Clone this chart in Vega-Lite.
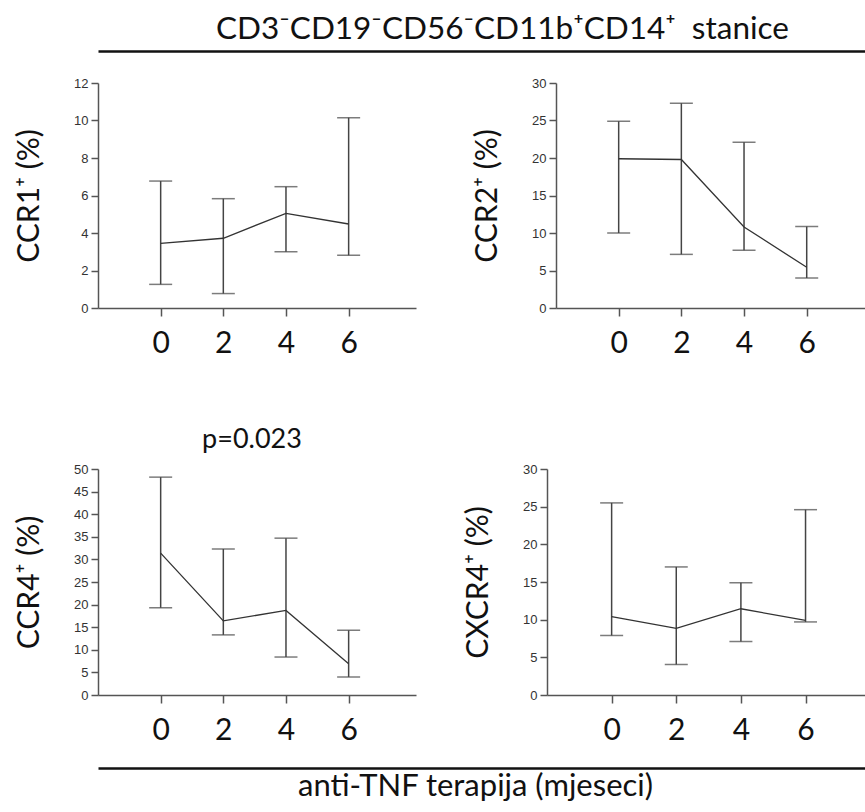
{
  "$schema": "https://vega.github.io/schema/vega-lite/v6.json",
  "padding": {"left": 14, "top": 13, "right": 0, "bottom": 0},
  "autosize": {"type": "pad"},
  "background": "white",
  "config": {
    "view": {"stroke": null},
    "font": "Lato",
    "axis": {"grid": false},
    "axisX": {"title": null, "labelFont": "Lato", "labelFontSize": 30, "labelColor": "#111", "labelPadding": 12, "tickSize": 8, "tickColor": "#555", "tickWidth": 1.5, "domainColor": "#555", "domainWidth": 1.5, "labelFlush": false},
    "axisY": {"titleFont": "Lato", "titleFontSize": 30, "titleFontWeight": "normal", "titleColor": "#111", "titlePadding": 29, "labelFont": "Liberation Sans", "labelFontSize": 13, "labelColor": "#333", "labelPadding": 3, "tickSize": 7, "tickColor": "#555", "tickWidth": 1.5, "domainColor": "#555", "domainWidth": 1.5}
  },
  "datasets": {
    "d": [
      {"panel": "CCR1", "month": 0, "mean": 3.45, "low": 1.26, "high": 6.77},
      {"panel": "CCR1", "month": 2, "mean": 3.72, "low": 0.77, "high": 5.83},
      {"panel": "CCR1", "month": 4, "mean": 5.05, "low": 3.0, "high": 6.47},
      {"panel": "CCR1", "month": 6, "mean": 4.48, "low": 2.81, "high": 10.15},
      {"panel": "CCR2", "month": 0, "mean": 19.9, "low": 10.0, "high": 24.9},
      {"panel": "CCR2", "month": 2, "mean": 19.8, "low": 7.15, "high": 27.3},
      {"panel": "CCR2", "month": 4, "mean": 10.8, "low": 7.7, "high": 22.1},
      {"panel": "CCR2", "month": 6, "mean": 5.43, "low": 4.0, "high": 10.86},
      {"panel": "CCR4", "month": 0, "mean": 31.4, "low": 19.3, "high": 48.2},
      {"panel": "CCR4", "month": 2, "mean": 16.4, "low": 13.3, "high": 32.3},
      {"panel": "CCR4", "month": 4, "mean": 18.7, "low": 8.4, "high": 34.7},
      {"panel": "CCR4", "month": 6, "mean": 6.9, "low": 4.0, "high": 14.3},
      {"panel": "CXCR4", "month": 0, "mean": 10.4, "low": 7.9, "high": 25.5},
      {"panel": "CXCR4", "month": 2, "mean": 8.85, "low": 4.05, "high": 17.0},
      {"panel": "CXCR4", "month": 4, "mean": 11.45, "low": 7.1, "high": 14.9},
      {"panel": "CXCR4", "month": 6, "mean": 9.9, "low": 9.7, "high": 24.6}
    ],
    "blank": [{"v": 0}]
  },
  "spacing": 68,
  "vconcat": [
    {
      "spacing": 0,
      "vconcat": [
        {
          "data": {"name": "blank"},
          "width": 768,
          "height": 23,
          "mark": {"type": "point", "opacity": 0},
          "encoding": {
            "x": {"field": "v", "type": "quantitative", "scale": {"domain": [0, 1]},
              "axis": {"orient": "top", "ticks": false, "labels": false, "domainColor": "#111", "domainWidth": 2.5,
                "title": "CD3⁻CD19⁻CD56⁻CD11b⁺CD14⁺\u00a0 stanice", "titleFont": "Lato", "titleFontSize": 31.5, "titleFontWeight": "normal",
                "titleColor": "#111", "titlePadding": 6, "titleX": 404, "titleAlign": "center"}},
            "y": {"field": "v", "type": "quantitative", "scale": {"domain": [0, 1]},
              "axis": {"title": " ", "titleFontSize": 30, "titlePadding": 54, "ticks": false, "labels": false, "domain": false}}
          }
        },
        {
          "bounds": "flush",
          "spacing": 140,
          "hconcat": [
            {
              "data": {"name": "d"},
              "transform": [{"filter": "datum.panel === 'CCR1'"}],
              "width": 318,
              "height": 225,
              "encoding": {
                "x": {"field": "month", "type": "quantitative", "scale": {"domain": [-2, 8.15], "nice": false}, "axis": {"values": [0, 2, 4, 6]}}
              },
              "layer": [
                {"mark": {"type": "rule", "color": "#444", "strokeWidth": 1.5},
                  "encoding": {"y": {"field": "low", "type": "quantitative", "scale": {"domain": [0, 12], "nice": false}, "axis": {"values": [0, 2, 4, 6, 8, 10, 12], "title": "CCR1⁺ (%)"}},
                    "y2": {"field": "high"}}},
                {"mark": {"type": "tick", "orient": "horizontal", "size": 23, "thickness": 1.5, "color": "#444"},
                  "encoding": {"y": {"field": "low", "type": "quantitative", "scale": {"domain": [0, 12], "nice": false}, "axis": {"values": [0, 2, 4, 6, 8, 10, 12], "title": "CCR1⁺ (%)"}}}},
                {"mark": {"type": "tick", "orient": "horizontal", "size": 23, "thickness": 1.5, "color": "#444"},
                  "encoding": {"y": {"field": "high", "type": "quantitative", "scale": {"domain": [0, 12], "nice": false}, "axis": {"values": [0, 2, 4, 6, 8, 10, 12], "title": "CCR1⁺ (%)"}}}},
                {"mark": {"type": "line", "color": "#333", "strokeWidth": 1.3},
                  "encoding": {"y": {"field": "mean", "type": "quantitative", "scale": {"domain": [0, 12], "nice": false}, "axis": {"values": [0, 2, 4, 6, 8, 10, 12], "title": "CCR1⁺ (%)"}}}}
              ]
            },
            {
              "data": {"name": "d"},
              "transform": [{"filter": "datum.panel === 'CCR2'"}],
              "width": 309,
              "height": 225,
              "encoding": {
                "x": {"field": "month", "type": "quantitative", "scale": {"domain": [-2, 7.86], "nice": false}, "axis": {"values": [0, 2, 4, 6]}}
              },
              "layer": [
                {"mark": {"type": "rule", "color": "#444", "strokeWidth": 1.5},
                  "encoding": {"y": {"field": "low", "type": "quantitative", "scale": {"domain": [0, 30], "nice": false}, "axis": {"values": [0, 5, 10, 15, 20, 25, 30], "title": "CCR2⁺ (%)"}},
                    "y2": {"field": "high"}}},
                {"mark": {"type": "tick", "orient": "horizontal", "size": 23, "thickness": 1.5, "color": "#444"},
                  "encoding": {"y": {"field": "low", "type": "quantitative", "scale": {"domain": [0, 30], "nice": false}, "axis": {"values": [0, 5, 10, 15, 20, 25, 30], "title": "CCR2⁺ (%)"}}}},
                {"mark": {"type": "tick", "orient": "horizontal", "size": 23, "thickness": 1.5, "color": "#444"},
                  "encoding": {"y": {"field": "high", "type": "quantitative", "scale": {"domain": [0, 30], "nice": false}, "axis": {"values": [0, 5, 10, 15, 20, 25, 30], "title": "CCR2⁺ (%)"}}}},
                {"mark": {"type": "line", "color": "#333", "strokeWidth": 1.3},
                  "encoding": {"y": {"field": "mean", "type": "quantitative", "scale": {"domain": [0, 30], "nice": false}, "axis": {"values": [0, 5, 10, 15, 20, 25, 30], "title": "CCR2⁺ (%)"}}}}
              ]
            }
          ]
        }
      ]
    },
    {
      "spacing": 0,
      "vconcat": [
        {
          "bounds": "flush",
          "spacing": 131,
          "hconcat": [
            {
              "data": {"name": "d"},
              "transform": [{"filter": "datum.panel === 'CCR4'"}],
              "width": 318,
              "height": 226,
              "title": {"text": "p=0.023", "font": "Lato", "fontSize": 27, "fontWeight": "normal", "color": "#111", "baseline": "alphabetic", "frame": "group", "offset": -12, "dx": -5},
              "encoding": {
                "x": {"field": "month", "type": "quantitative", "scale": {"domain": [-2, 8.15], "nice": false}, "axis": {"values": [0, 2, 4, 6]}}
              },
              "layer": [
                {"mark": {"type": "rule", "color": "#444", "strokeWidth": 1.5},
                  "encoding": {"y": {"field": "low", "type": "quantitative", "scale": {"domain": [0, 50], "nice": false}, "axis": {"values": [0, 5, 10, 15, 20, 25, 30, 35, 40, 45, 50], "title": "CCR4⁺ (%)"}},
                    "y2": {"field": "high"}}},
                {"mark": {"type": "tick", "orient": "horizontal", "size": 23, "thickness": 1.5, "color": "#444"},
                  "encoding": {"y": {"field": "low", "type": "quantitative", "scale": {"domain": [0, 50], "nice": false}, "axis": {"values": [0, 5, 10, 15, 20, 25, 30, 35, 40, 45, 50], "title": "CCR4⁺ (%)"}}}},
                {"mark": {"type": "tick", "orient": "horizontal", "size": 23, "thickness": 1.5, "color": "#444"},
                  "encoding": {"y": {"field": "high", "type": "quantitative", "scale": {"domain": [0, 50], "nice": false}, "axis": {"values": [0, 5, 10, 15, 20, 25, 30, 35, 40, 45, 50], "title": "CCR4⁺ (%)"}}}},
                {"mark": {"type": "line", "color": "#333", "strokeWidth": 1.3},
                  "encoding": {"y": {"field": "mean", "type": "quantitative", "scale": {"domain": [0, 50], "nice": false}, "axis": {"values": [0, 5, 10, 15, 20, 25, 30, 35, 40, 45, 50], "title": "CCR4⁺ (%)"}}}}
              ]
            },
            {
              "data": {"name": "d"},
              "transform": [{"filter": "datum.panel === 'CXCR4'"}],
              "width": 318,
              "height": 226,
              "encoding": {
                "x": {"field": "month", "type": "quantitative", "scale": {"domain": [-2, 7.84], "nice": false}, "axis": {"values": [0, 2, 4, 6]}}
              },
              "layer": [
                {"mark": {"type": "rule", "color": "#444", "strokeWidth": 1.5},
                  "encoding": {"y": {"field": "low", "type": "quantitative", "scale": {"domain": [0, 30], "nice": false}, "axis": {"values": [0, 5, 10, 15, 20, 25, 30], "title": "CXCR4⁺ (%)"}},
                    "y2": {"field": "high"}}},
                {"mark": {"type": "tick", "orient": "horizontal", "size": 23, "thickness": 1.5, "color": "#444"},
                  "encoding": {"y": {"field": "low", "type": "quantitative", "scale": {"domain": [0, 30], "nice": false}, "axis": {"values": [0, 5, 10, 15, 20, 25, 30], "title": "CXCR4⁺ (%)"}}}},
                {"mark": {"type": "tick", "orient": "horizontal", "size": 23, "thickness": 1.5, "color": "#444"},
                  "encoding": {"y": {"field": "high", "type": "quantitative", "scale": {"domain": [0, 30], "nice": false}, "axis": {"values": [0, 5, 10, 15, 20, 25, 30], "title": "CXCR4⁺ (%)"}}}},
                {"mark": {"type": "line", "color": "#333", "strokeWidth": 1.3},
                  "encoding": {"y": {"field": "mean", "type": "quantitative", "scale": {"domain": [0, 30], "nice": false}, "axis": {"values": [0, 5, 10, 15, 20, 25, 30], "title": "CXCR4⁺ (%)"}}}}
              ]
            }
          ]
        },
        {
          "data": {"name": "blank"},
          "width": 768,
          "height": 23,
          "mark": {"type": "point", "opacity": 0},
          "encoding": {
            "x": {"field": "v", "type": "quantitative", "scale": {"domain": [0, 1]},
              "axis": {"orient": "bottom", "ticks": false, "labels": false, "domainColor": "#111", "domainWidth": 2.5,
                "title": "anti-TNF terapija (mjeseci)", "titleFont": "Lato", "titleFontSize": 31, "titleFontWeight": "normal",
                "titleColor": "#111", "titlePadding": 3, "titleX": 377, "titleAlign": "center"}},
            "y": {"field": "v", "type": "quantitative", "scale": {"domain": [0, 1]},
              "axis": {"title": " ", "titleFontSize": 30, "titlePadding": 54, "ticks": false, "labels": false, "domain": false}}
          }
        }
      ]
    }
  ]
}
